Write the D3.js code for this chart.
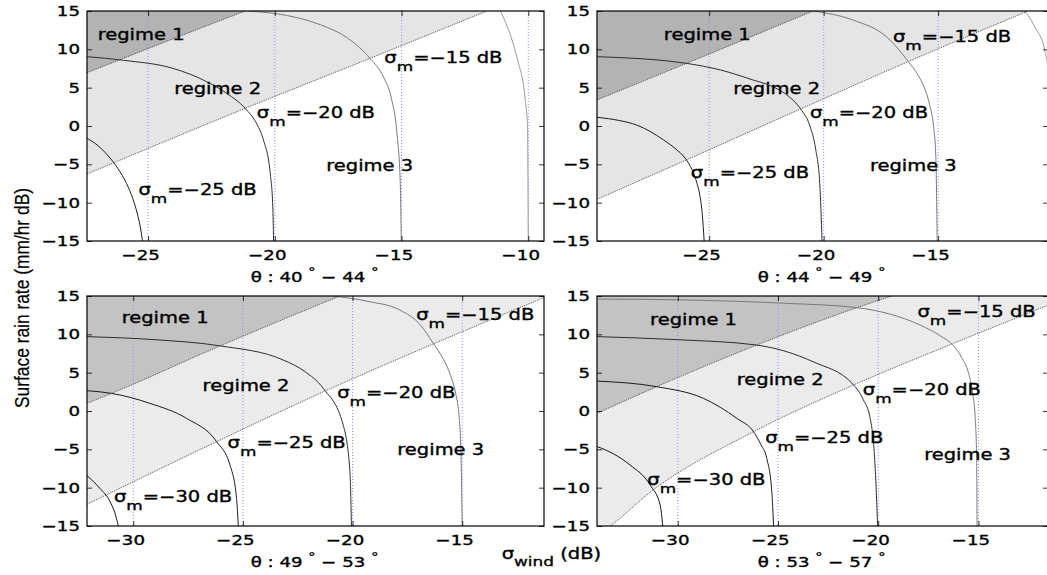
<!DOCTYPE html>
<html>
<head>
<meta charset="utf-8">
<script src="https://cdn.jsdelivr.net/npm/d3@7"></script>
<style>
  body { margin: 0; background: #fff; }
  svg { display: block; font-family: "DejaVu Sans", Verdana, sans-serif; }
  text { stroke: #000; stroke-width: 0.35px; }
</style>
</head>
<body>
<svg id="chart" width="1047" height="575"></svg>
<script>
// Incidence-angle bins, one panel each
const angleBins = [[40, 44], [44, 49], [49, 53], [53, 57]];

// Axis extents (sigma_wind, dB) and ticks
const xDomains = [[-27.41, -9.38], [-29.9, -10.2], [-32.11, -11.27], [-34.03, -11.53]];
const xTickValues = [[-25, -20, -15, -10], [-25, -20, -15, -10], [-30, -25, -20, -15], [-30, -25, -20, -15]];
const yDomain = [-15, 15];
const yTickValues = [-15, -10, -5, 0, 5, 10, 15];

// Regime boundaries: [sigma_wind dB, rain rate dB]
const upperBoundary = [
  [[-27.41, 6.95], [-24.3, 11.0], [-21.17, 15]],
  [[-29.9, 3.4], [-25.99, 8.17], [-20.46, 15]],
  [[-32.11, 1.0], [-30.99, 2.3], [-26.05, 8.48], [-20.58, 15]],
  [[-34.03, -0.3], [-31.05, 3.17], [-26.06, 8.6], [-21.06, 13.48], [-19.32, 15]]
];
const lowerBoundary = [
  [[-27.41, -6.26], [-21.17, 2.3], [-16.24, 8.83], [-11.63, 15]],
  [[-29.9, -9.56], [-26.0, -4.43], [-21.1, 2.1], [-16.3, 8.4], [-11.07, 15]],
  [[-32.11, -12.17], [-26.2, -4.0], [-21.26, 2.6], [-16.25, 8.83], [-11.27, 14.8]],
  [[-34.03, -16.1], [-33.38, -15], [-31.38, -10.6], [-26.22, -2.7], [-21.23, 3.39], [-16.24, 8.83], [-11.91, 13.4], [-11.53, 13.8]]
];

// Constant-sigma_m contours: level in dB, points [sigma_wind dB, rain rate dB]
const contours4044 = [
  { level: -25, points: [[-27.41, -1.6], [-27.0, -2.5], [-26.6, -3.8], [-26.2, -5.5], [-25.85, -7.5], [-25.6, -9.5], [-25.42, -11.5], [-25.3, -13.3], [-25.22, -15]] },
  { level: -20, points: [[-27.41, 9.04], [-25.97, 8.57], [-24.0, 7.5], [-22.7, 5.8], [-21.9, 4.26], [-21.17, 2.3], [-20.7, 0.2], [-20.45, -1.8], [-20.18, -6.2], [-20.08, -10.5], [-20.05, -15]] },
  { level: -15, points: [[-21.04, 15], [-19.5, 14.4], [-18.2, 13.2], [-17.1, 11.4], [-16.24, 8.8], [-15.7, 6.3], [-15.4, 3.6], [-15.18, -1], [-15.05, -7.5], [-15.01, -15]] },
  { level: -10, points: [[-11.1, 15], [-10.7, 11.8], [-10.42, 8.6], [-10.12, 3.4], [-10.03, -0.1], [-10.0, -15]] }
];
const contours4449 = [
  { level: -25, points: [[-29.89, 1.13], [-28.9, 0.7], [-28.17, 0.13], [-27.0, -1.8], [-26.5, -2.9], [-26.0, -4.4], [-25.75, -5.7], [-25.55, -7.3], [-25.4, -9.2], [-25.3, -11.5], [-25.22, -15]] },
  { level: -20, points: [[-29.89, 9.04], [-25.99, 8.17], [-24.5, 7.3], [-23.08, 6.0], [-22.2, 5.1], [-21.5, 3.8], [-21.0, 2.2], [-20.6, 0.0], [-20.35, -3.0], [-20.17, -7.5], [-20.07, -15]] },
  { level: -15, points: [[-20.46, 15], [-18.7, 13.8], [-17.26, 11.65], [-16.3, 8.4], [-15.85, 6.5], [-15.55, 4.6], [-15.35, 2.5], [-15.2, 0.0], [-15.1, -4.0], [-15.04, -15]] },
  { level: -10, points: [[-11.21, 15], [-10.75, 12.8], [-10.34, 9.9], [-10.15, 6.0], [-10.05, 1.0], [-10.0, -15]] }
];
const contours4953 = [
  { level: -30, points: [[-32.11, -8.43], [-31.52, -10.1], [-31.06, -11.8], [-30.85, -13.2], [-30.68, -15]] },
  { level: -25, points: [[-32.11, 2.65], [-30.99, 2.3], [-29.24, 1.0], [-27.57, -0.96], [-26.2, -4.0], [-25.59, -7.04], [-25.29, -11.4], [-25.21, -15]] },
  { level: -20, points: [[-32.11, 9.7], [-29.0, 9.3], [-26.05, 8.5], [-23.16, 6.65], [-22.2, 5.2], [-21.34, 2.96], [-20.43, -1.8], [-20.12, -7.9], [-20.05, -15]] },
  { level: -15, points: [[-20.88, 15], [-19.3, 14.3], [-17.84, 13.17], [-16.9, 11.2], [-16.32, 8.83], [-15.85, 6.7], [-15.55, 4.8], [-15.3, 2.3], [-15.15, -0.5], [-15.06, -5.0], [-15.0, -15]] }
];
const contours5357 = [
  { level: -30, points: [[-34.01, -4.65], [-33.2, -5.6], [-32.38, -7.04], [-31.38, -9.65], [-30.88, -12.26], [-30.75, -15]] },
  { level: -25, points: [[-34.01, 3.9], [-31.05, 3.17], [-28.72, 1.65], [-27.05, -0.96], [-26.22, -2.7], [-25.85, -4.4], [-25.56, -6.17], [-25.31, -10.5], [-25.22, -15]] },
  { level: -20, points: [[-34.01, 9.7], [-30.0, 9.3], [-26.06, 8.6], [-23.23, 6.4], [-21.23, 3.4], [-20.75, 1.5], [-20.4, -0.96], [-20.15, -7.5], [-20.03, -15]] },
  { level: -15, points: [[-34.01, 14.6], [-29.55, 14.48], [-24.56, 14.04], [-21.06, 13.48], [-19.5, 12.7], [-17.9, 11.2], [-16.9, 9.8], [-16.24, 8.5], [-15.8, 6.8], [-15.5, 5.0], [-15.3, 2.5], [-15.16, -1.0], [-15.09, -6.0], [-15.07, -15]] }
];
const contourSets = [contours4044, contours4449, contours4953, contours5357];

// Text anchors in data units: regime 1, 2, 3
const regimeLabelAnchors = [
  [[-26.99, 11.22], [-23.97, 4.17], [-17.97, -5.83]],
  [[-26.98, 11.22], [-23.95, 4.17], [-17.98, -5.83]],
  [[-30.53, 11.44], [-26.84, 2.6], [-17.96, -5.74]],
  [[-31.38, 11.22], [-27.06, 3.39], [-17.71, -6.39]]
];
// sigma_m level labels: [level, x, y]
const sigmaLabelAnchors = [
  [[-15, -15.68, 8.18], [-20, -20.71, 1.04], [-25, -25.38, -9.0]],
  [[-15, -16.97, 11.0], [-20, -20.6, 1.0], [-25, -25.8, -6.8]],
  [[-15, -17.1, 11.87], [-20, -20.7, 1.66], [-25, -25.7, -4.87], [-30, -30.88, -11.83]],
  [[-15, -18.04, 12.3], [-20, -20.77, 2.09], [-25, -25.64, -4.2], [-30, -31.52, -9.65]]
];

// ---------------------------------------------------------------
const svg = d3.select("#chart");
const H = 230;
const SX = 1.3; // horizontal stretch of the lettering
const frames = [
  { left: 87, top: 11, width: 457 },
  { left: 597, top: 11, width: 451 },
  { left: 87, top: 296, width: 457 },
  { left: 597, top: 296, width: 451 }
];
const fillDark = ["#b3b3b3", "#b3b3b3", "#c3c3c3", "#c3c3c3"];
const fillLight = ["#e5e5e5", "#e5e5e5", "#ebebeb", "#ebebeb"];
const levelColor = d3.scaleOrdinal()
  .domain([-30, -25, -20, -15, -10])
  .range(["#111111", "#1c1c1c", "#2e2e2e", "#7a7a7a", "#9a9a9a"]);

const minus = v => String(v).replace("-", "\u2212");

function stretchedText(parent, px, py, anchor, size) {
  return parent.append("text")
    .attr("transform", `translate(${px},${py}) scale(${SX},1)`)
    .attr("text-anchor", anchor)
    .attr("font-size", size)
    .attr("fill", "#000");
}

const defs = svg.append("defs");

angleBins.forEach((bin, i) => {
  const f = frames[i];
  const x = d3.scaleLinear().domain(xDomains[i]).range([0, f.width]);
  const y = d3.scaleLinear().domain(yDomain).range([H, 0]);
  const g = svg.append("g").attr("transform", `translate(${f.left},${f.top})`);

  defs.append("clipPath").attr("id", `clip${i}`)
    .append("rect").attr("width", f.width).attr("height", H);
  const plot = g.append("g").attr("clip-path", `url(#clip${i})`);

  // Regime shading: everything above a boundary up to the top of the axes
  const above = d3.area()
    .x(d => x(d[0])).y0(d => y(d[1])).y1(y(yDomain[1]))
    .curve(d3.curveMonotoneX);
  plot.append("path").datum(lowerBoundary[i]).attr("d", above).attr("fill", fillLight[i]);
  plot.append("path").datum(upperBoundary[i]).attr("d", above).attr("fill", fillDark[i]);

  // Vertical grid
  plot.selectAll("line.grid").data(xTickValues[i]).join("line")
    .attr("class", "grid")
    .attr("x1", d => x(d)).attr("x2", d => x(d))
    .attr("y1", 0).attr("y2", H)
    .attr("stroke", "#8f8fff").attr("stroke-width", 1)
    .attr("stroke-dasharray", "1,2");

  // Boundary lines
  const boundLine = d3.line().x(d => x(d[0])).y(d => y(d[1])).curve(d3.curveMonotoneX);
  [upperBoundary[i], lowerBoundary[i]].forEach(b => {
    plot.append("path").datum(b).attr("d", boundLine)
      .attr("fill", "none").attr("stroke", "#3a3a3a")
      .attr("stroke-width", 0.9).attr("stroke-dasharray", "1,1");
  });

  // Contours
  const contourLine = d3.line().x(d => x(d[0])).y(d => y(d[1]))
    .curve(d3.curveMonotoneX);
  plot.selectAll("path.contour").data(contourSets[i]).join("path")
    .attr("class", "contour")
    .attr("d", d => contourLine(d.points))
    .attr("fill", "none")
    .attr("stroke", d => levelColor(d.level))
    .attr("stroke-width", 1);

  // Axes with inward ticks on all four sides
  const inTick = 5;
  const shownX = xTickValues[i].filter(t => t <= xDomains[i][1]);
  const bottom = g.append("g").attr("transform", `translate(0,${H})`)
    .call(d3.axisBottom(x).tickValues(shownX).tickSizeInner(-inTick).tickSizeOuter(0).tickFormat(minus));
  bottom.selectAll("text")
    .attr("y", 0).attr("dy", 0)
    .attr("transform", `translate(-8,19) scale(${SX},1)`)
    .attr("font-size", 14).attr("font-family", "DejaVu Sans").attr("fill", "#000");
  g.append("g")
    .call(d3.axisTop(x).tickValues(shownX).tickSizeInner(-inTick).tickSizeOuter(0).tickFormat(""));
  const left = g.append("g")
    .call(d3.axisLeft(y).tickValues(yTickValues).tickSizeInner(-inTick).tickSizeOuter(0).tickFormat(minus));
  left.selectAll("text")
    .attr("x", 0)
    .attr("transform", `translate(-7,0) scale(${SX},1)`)
    .attr("font-size", 14).attr("font-family", "DejaVu Sans").attr("fill", "#000");
  g.append("g").attr("transform", `translate(${f.width},0)`)
    .call(d3.axisRight(y).tickValues(yTickValues).tickSizeInner(-inTick).tickSizeOuter(0).tickFormat(""));
  g.selectAll(".domain").remove();
  g.selectAll(".tick line").attr("stroke", "#000").attr("stroke-width", 0.8);

  g.append("rect")
    .attr("width", f.width).attr("height", H)
    .attr("fill", "none").attr("stroke", "#000").attr("stroke-width", 1.2);

  // Regime labels
  regimeLabelAnchors[i].forEach((a, k) => {
    stretchedText(g, x(a[0]), y(a[1]), "start", 15).text(`regime ${k + 1}`);
  });

  // sigma_m labels
  sigmaLabelAnchors[i].forEach(a => {
    const t = stretchedText(g, x(a[1]), y(a[2]), "start", 15);
    t.append("tspan").text("\u03c3");
    t.append("tspan").attr("dy", 8).attr("font-size", 13).text("m");
    t.append("tspan").attr("dy", -8).text(`=${minus(a[0])} dB`);
  });

  // Angle-bin caption below the axis
  const cap = stretchedText(g, f.width / 2 - 1, H + 40.7, "middle", 14);
  cap.append("tspan").text(`\u03b8 : ${bin[0]} `);
  cap.append("tspan").attr("dy", -7).attr("font-size", 11).text("\u00b0");
  cap.append("tspan").attr("dy", 7).text(` \u2212 ${bin[1]} `);
  cap.append("tspan").attr("dy", -7).attr("font-size", 11).text("\u00b0");
});

// Shared axis titles
svg.append("text")
  .attr("transform", "translate(29,298) rotate(-90)")
  .attr("text-anchor", "middle")
  .attr("font-family", "'Liberation Sans Narrow', 'Liberation Sans', sans-serif")
  .attr("font-size", 20)
  .attr("textLength", 220).attr("lengthAdjust", "spacingAndGlyphs")
  .attr("fill", "#000")
  .style("stroke-width", "0.2px")
  .text("Surface rain rate (mm/hr dB)");

const xt = stretchedText(svg, 501.7, 559, "start", 15);
xt.append("tspan").text("\u03c3");
xt.append("tspan").attr("dy", 7).attr("font-size", 13).text("wind");
xt.append("tspan").attr("dy", -7).text(" (dB)");
</script>
</body>
</html>
